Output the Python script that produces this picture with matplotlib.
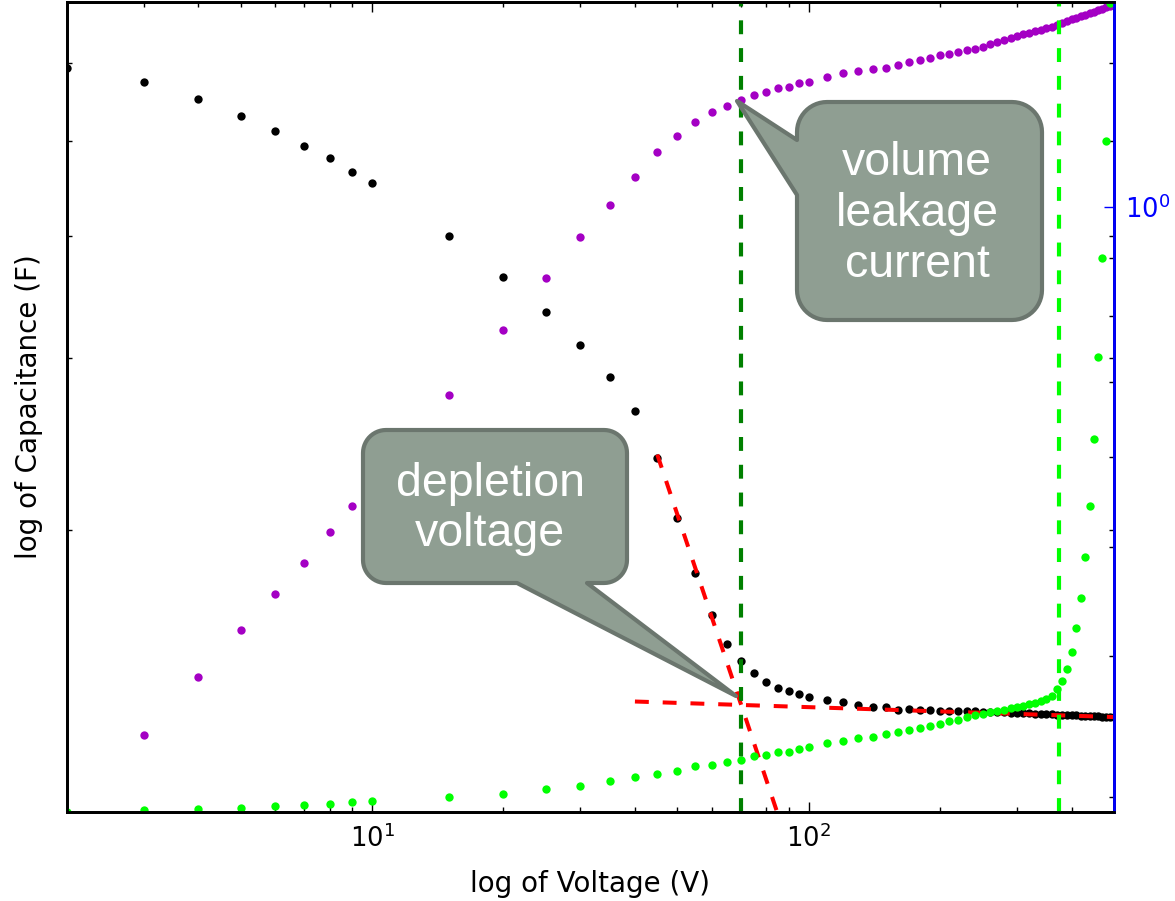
import numpy as np
import matplotlib
matplotlib.use('Agg')
import matplotlib.pyplot as plt
from matplotlib.patches import Polygon
from matplotlib.ticker import NullFormatter

plt.rcParams['lines.scale_dashes'] = False

# bias voltage (V)
voltage = [2, 3, 4, 5, 6, 7, 8, 9, 10,
           15, 20, 25, 30, 35, 40, 45, 50, 55, 60, 65, 70, 75, 80, 85, 90, 95,
           100, 110, 120, 130, 140, 150, 160, 170, 180, 190, 200,
           210, 220, 230, 240, 250, 260, 270, 280, 290, 300,
           310, 320, 330, 340, 350, 360, 370, 380, 390, 400,
           410, 420, 430, 440, 450, 460, 470, 480, 490, 500]

# capacitance (F), left axis
capacitance = [5.93e-11, 5.74e-11, 5.52e-11, 5.30e-11, 5.12e-11, 4.94e-11, 4.80e-11, 4.65e-11, 4.53e-11,
               4.00e-11, 3.63e-11, 3.34e-11, 3.09e-11, 2.87e-11, 2.65e-11, 2.37e-11, 2.06e-11, 1.81e-11,
               1.64e-11, 1.53e-11, 1.47e-11, 1.43e-11, 1.40e-11, 1.38e-11, 1.37e-11, 1.36e-11,
               1.350e-11, 1.341e-11, 1.335e-11, 1.325e-11, 1.320e-11, 1.320e-11, 1.312e-11, 1.314e-11,
               1.312e-11, 1.310e-11, 1.309e-11,
               1.309e-11, 1.307e-11, 1.306e-11, 1.306e-11, 1.304e-11, 1.304e-11, 1.303e-11, 1.303e-11,
               1.301e-11, 1.301e-11,
               1.300e-11, 1.300e-11, 1.298e-11, 1.298e-11, 1.297e-11, 1.297e-11, 1.296e-11, 1.296e-11,
               1.294e-11, 1.294e-11,
               1.294e-11, 1.293e-11, 1.293e-11, 1.291e-11, 1.291e-11, 1.291e-11, 1.290e-11, 1.290e-11,
               1.288e-11, 1.288e-11]

# leakage current, right axis (purple)
current = [0.2884, 0.3408, 0.3831, 0.4218, 0.4543, 0.4839, 0.5154, 0.5435, 0.5694,
           0.6814, 0.7778, 0.8647, 0.9402, 1.0035, 1.0624, 1.1172, 1.1555, 1.1875, 1.2121,
           1.2285, 1.2428, 1.2554, 1.2641, 1.2729, 1.2770, 1.2859,
           1.2901, 1.3032, 1.3124, 1.3185, 1.3225, 1.3277, 1.3341, 1.3415, 1.3481, 1.3552, 1.3614,
           1.3655, 1.3699, 1.3747, 1.3798, 1.3858, 1.3922, 1.3989, 1.4047, 1.4106, 1.4155,
           1.4204, 1.4246, 1.4295, 1.4338, 1.4384, 1.4421, 1.4467, 1.4541, 1.4594, 1.4645,
           1.4689, 1.4740, 1.4784, 1.4832, 1.4879, 1.4924, 1.4969, 1.5014, 1.5066, 1.5108]

# second current measurement, right axis (green)
current_hv = [0.2911, 0.2924, 0.2931, 0.2938, 0.2950, 0.2954, 0.2960, 0.2971, 0.2975,
              0.3001, 0.3021, 0.3052, 0.3071, 0.3105, 0.3126, 0.3148, 0.3169, 0.3195, 0.3204,
              0.3224, 0.3239, 0.3261, 0.3272, 0.3288, 0.3292, 0.3313,
              0.3326, 0.3351, 0.3362, 0.3386, 0.3396, 0.3415, 0.3429, 0.3443, 0.3459, 0.3471, 0.3483,
              0.3502, 0.3514, 0.3533, 0.3545, 0.3557, 0.3567, 0.3578, 0.3587, 0.3597, 0.3607,
              0.3616, 0.3626, 0.3636, 0.3651, 0.3666, 0.3690, 0.3741, 0.3805, 0.3899, 0.4034,
              0.4233, 0.4502, 0.4892, 0.5437, 0.6225, 0.7367, 0.9001, 1.1440, 1.5155, 1.75]

# straight-line fits (log-log) used to find the depletion voltage
fit_slope_v = [45, 90]
fit_slope_c = [2.39e-11, 0.95e-11]
fit_flat_v = [40, 500]
fit_flat_c = [1.337e-11, 1.289e-11]

depletion_v = 70
breakdown_v = 375

W, H = 1175, 901
fig = plt.figure(figsize=(W / 100, H / 100), dpi=100)
ax = fig.add_axes([66.7 / W, 1 - 812 / H, (1114 - 66.7) / W, 810 / H])

ax.plot(voltage, capacitance, 'o', color='k', ms=6, mew=0)
ax.plot(fit_slope_v, fit_slope_c, color='r', lw=2.9, dashes=(10, 10))
ax.plot(fit_flat_v, fit_flat_c, color='r', lw=2.9, dashes=(10, 10))
ax.set_xscale('log')
ax.set_yscale('log')
ax.set_xlim(2, 500)
ax.set_ylim(1.031e-11, 6.93e-11)
ax.set_xlabel('log of Voltage (V)', fontsize=20)
ax.set_ylabel('log of Capacitance (F)', fontsize=20)
ax.xaxis.set_label_coords(0.5, -0.072)
ax.yaxis.set_label_coords(-0.0225, 0.5)

ax2 = ax.twinx()
ax2.plot(voltage, current, 'o', color='#a400c4', ms=6, mew=0)
ax2.plot(voltage, current_hv, 'o', color='#00ff00', ms=6, mew=0)
ax2.axvline(depletion_v, color='g', lw=3, dashes=(10, 10))
ax2.axvline(breakdown_v, color='#00ff00', lw=3, dashes=(10, 10))
ax2.set_yscale('log')
ax2.set_ylim(0.2912, 1.5175)

for a in (ax, ax2):
    a.yaxis.set_minor_formatter(NullFormatter())
    for s in a.spines.values():
        s.set_linewidth(2)
ax.yaxis.set_major_formatter(NullFormatter())
ax2.spines['right'].set_color('b')
ax.xaxis.set_minor_formatter(NullFormatter())
ax.tick_params(which='both', direction='in', top=True, right=True, width=1)
ax.tick_params(which='major', length=7.5, labelsize=18.5, pad=9)
ax.tick_params(which='minor', length=3.8)
ax2.tick_params(which='both', direction='in', width=1)
ax2.tick_params(which='major', length=7.5, labelsize=18.5, pad=8, color='b', labelcolor='b')
ax2.tick_params(which='minor', length=3.8)


def bubble(x0, y0, x1, y1, r, side, base, tip, n=14):
    pts = []

    def arc(cx, cy, a0, a1):
        for a in np.radians(np.linspace(a0, a1, n)):
            pts.append((cx + r * np.cos(a), cy + r * np.sin(a)))

    arc(x1 - r, y0 + r, -90, 0)
    arc(x1 - r, y1 - r, 0, 90)
    if side == 'bottom':
        pts.extend([(base[1], y1), tip, (base[0], y1)])
    arc(x0 + r, y1 - r, 90, 180)
    if side == 'left':
        pts.extend([(x0, base[1]), tip, (x0, base[0])])
    arc(x0 + r, y0 + r, 180, 270)
    return [(x / W, 1 - y / H) for x, y in pts]


box_fc = '#8f9e92'
box_ec = '#6b766e'
callout_font = ['Liberation Sans', 'DejaVu Sans']

p1 = Polygon(bubble(363, 430, 627, 583, 23, 'bottom', (517, 587), (736, 696)),
             closed=True, fc=box_fc, ec=box_ec, lw=3, joinstyle='round',
             transform=fig.transFigure)
fig.add_artist(p1)
fig.text(490 / W, 1 - 509 / H, 'depletion\nvoltage', ha='center', va='center',
         color='white', fontsize=33.5, family=callout_font, linespacing=1.2)

p2 = Polygon(bubble(797, 102, 1042, 320, 30, 'left', (140, 195), (737, 101)),
             closed=True, fc=box_fc, ec=box_ec, lw=3, joinstyle='round',
             transform=fig.transFigure)
fig.add_artist(p2)
fig.text(917 / W, 1 - 214 / H, 'volume\nleakage\ncurrent', ha='center', va='center',
         color='white', fontsize=33.5, family=callout_font, linespacing=1.2)

fig.savefig('out.png', dpi=100)
